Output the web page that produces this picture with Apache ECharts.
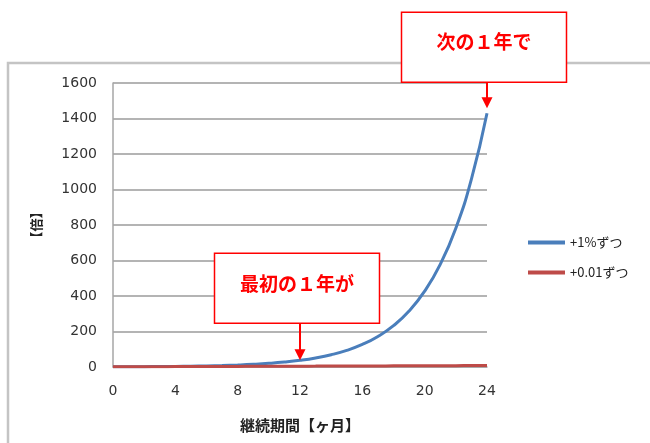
<!DOCTYPE html>
<html>
<head>
<meta charset="utf-8">
<script src="https://cdn.jsdelivr.net/npm/echarts@6/dist/echarts.min.js"></script>
<style>
  html, body { margin: 0; padding: 0; background: #fff; }
  #chart { width: 650px; height: 443px; }
</style>
</head>
<body>
<div id="chart"></div>
<script>
// Months on the x axis
const months = [0, 1, 2, 3, 4, 5, 6, 7, 8, 9, 10, 11, 12, 13, 14, 15, 16, 17, 18, 19, 20, 21, 22, 23, 24];
// Growth factor when improving 1% every day
const onePercent = [1, 1.35, 1.83, 2.48, 3.36, 4.55, 6.16, 8.33, 11.3, 15.3, 20.7, 28.0, 37.8, 51.2, 69.3, 93.8, 127, 172, 233, 315, 427, 578, 782, 1059, 1430];
// Growth factor when adding 0.01 every day
const plusHundredth = [1, 1.30, 1.61, 1.91, 2.22, 2.52, 2.83, 3.13, 3.43, 3.74, 4.04, 4.35, 4.65, 4.95, 5.26, 5.56, 5.87, 6.17, 6.48, 6.78, 7.08, 7.39, 7.69, 8.00, 8.30];
// Series names
const seriesNames = ['+1%ずつ', '+0.01ずつ'];
// Callout annotations: month pointed at and its text
const calloutMonths = [12, 24];
const calloutTexts = ['最初の１年が', '次の１年で'];

const JP = '"Noto Sans CJK JP", sans-serif';
const NUM = '"DejaVu Sans", sans-serif';

const chart = echarts.init(document.getElementById('chart'), null, { renderer: 'canvas' });

const toPairs = (vals) => months.map((m, i) => [m, vals[i]]);

chart.setOption({
  animation: false,
  backgroundColor: '#ffffff',
  grid: { left: 113, right: 163, top: 83, bottom: 76 },
  legend: {
    orient: 'vertical',
    left: 523,
    top: 231,
    itemWidth: 37,
    itemHeight: 4,
    itemGap: 17,
    icon: 'rect',
    textStyle: { fontFamily: JP, fontSize: 13, color: '#222' },
    data: seriesNames
  },
  xAxis: {
    type: 'value',
    min: 0, max: 24, interval: 4,
    name: '継続期間【ヶ月】',
    nameLocation: 'middle',
    nameGap: 51,
    nameTextStyle: { fontFamily: JP, fontSize: 15, fontWeight: 'bold', color: '#222' },
    axisLine: { show: true, lineStyle: { color: '#a6a6a6', width: 1.5 } },
    axisTick: { show: false },
    splitLine: { show: false },
    axisLabel: { fontFamily: NUM, fontSize: 14, color: '#333', margin: 17, formatter: (v) => String(v) }
  },
  yAxis: {
    type: 'value',
    min: 0, max: 1600, interval: 200,
    name: '【倍】',
    nameLocation: 'middle',
    nameRotate: 90,
    nameGap: 70,
    nameTextStyle: { fontFamily: JP, fontSize: 13, fontWeight: 'bold', color: '#222' },
    axisLine: { show: true, lineStyle: { color: '#a6a6a6', width: 1.5 } },
    axisTick: { show: false },
    splitLine: { show: true, lineStyle: { color: '#b4b4b4', width: 2 } },
    axisLabel: { fontFamily: NUM, fontSize: 14, color: '#333', margin: 16, formatter: (v) => String(v) }
  },
  series: [
    {
      name: seriesNames[0],
      type: 'line',
      smooth: true,
      symbol: 'none',
      data: toPairs(onePercent),
      itemStyle: { color: '#4a7ebb' },
      lineStyle: { color: '#4a7ebb', width: 3 },
      z: 2
    },
    {
      name: seriesNames[1],
      type: 'line',
      smooth: true,
      symbol: 'none',
      data: toPairs(plusHundredth),
      itemStyle: { color: '#be4b48' },
      lineStyle: { color: '#be4b48', width: 3 },
      z: 3
    }
  ]
});

// Outer chart-area frame and the red callout boxes with arrows
const boxW = 165, boxH = 70;
const arrowLens = [37, 26];
const tipOffsets = [0, -5];
const graphics = [{
  type: 'rect',
  shape: { x: 8, y: 63, width: 700, height: 450 },
  style: { fill: null, stroke: '#c4c4c4', lineWidth: 2.5 },
  z: 0, silent: true
}];

calloutMonths.forEach((m, k) => {
  const idx = months.indexOf(m);
  const p = chart.convertToPixel({ seriesIndex: 0 }, [m, onePercent[idx]]);
  const tipX = Math.round(p[0]);
  const tipY = p[1] + tipOffsets[k];
  const boxBottom = tipY - arrowLens[k];
  const boxX = tipX - 3 - boxW / 2;
  const boxY = boxBottom - boxH;
  graphics.push({
    type: 'rect',
    shape: { x: boxX, y: boxY, width: boxW, height: boxH },
    style: { fill: '#ffffff', stroke: '#ff0000', lineWidth: 1.5 },
    z: 100
  });
  graphics.push({
    type: 'text',
    x: boxX + boxW / 2,
    y: boxY + boxH / 2 - 5,
    style: {
      text: calloutTexts[k],
      fill: '#ff0000',
      font: 'bold 19px ' + JP,
      align: 'center',
      verticalAlign: 'middle'
    },
    z: 101
  });
  graphics.push({
    type: 'line',
    shape: { x1: tipX, y1: boxBottom, x2: tipX, y2: tipY - 10 },
    style: { stroke: '#ff0000', lineWidth: 2 },
    z: 100
  });
  graphics.push({
    type: 'polygon',
    shape: { points: [[tipX - 5.5, tipY - 11], [tipX + 5.5, tipY - 11], [tipX, tipY]] },
    style: { fill: '#ff0000' },
    z: 100
  });
});

chart.setOption({ graphic: graphics });
</script>
</body>
</html>
